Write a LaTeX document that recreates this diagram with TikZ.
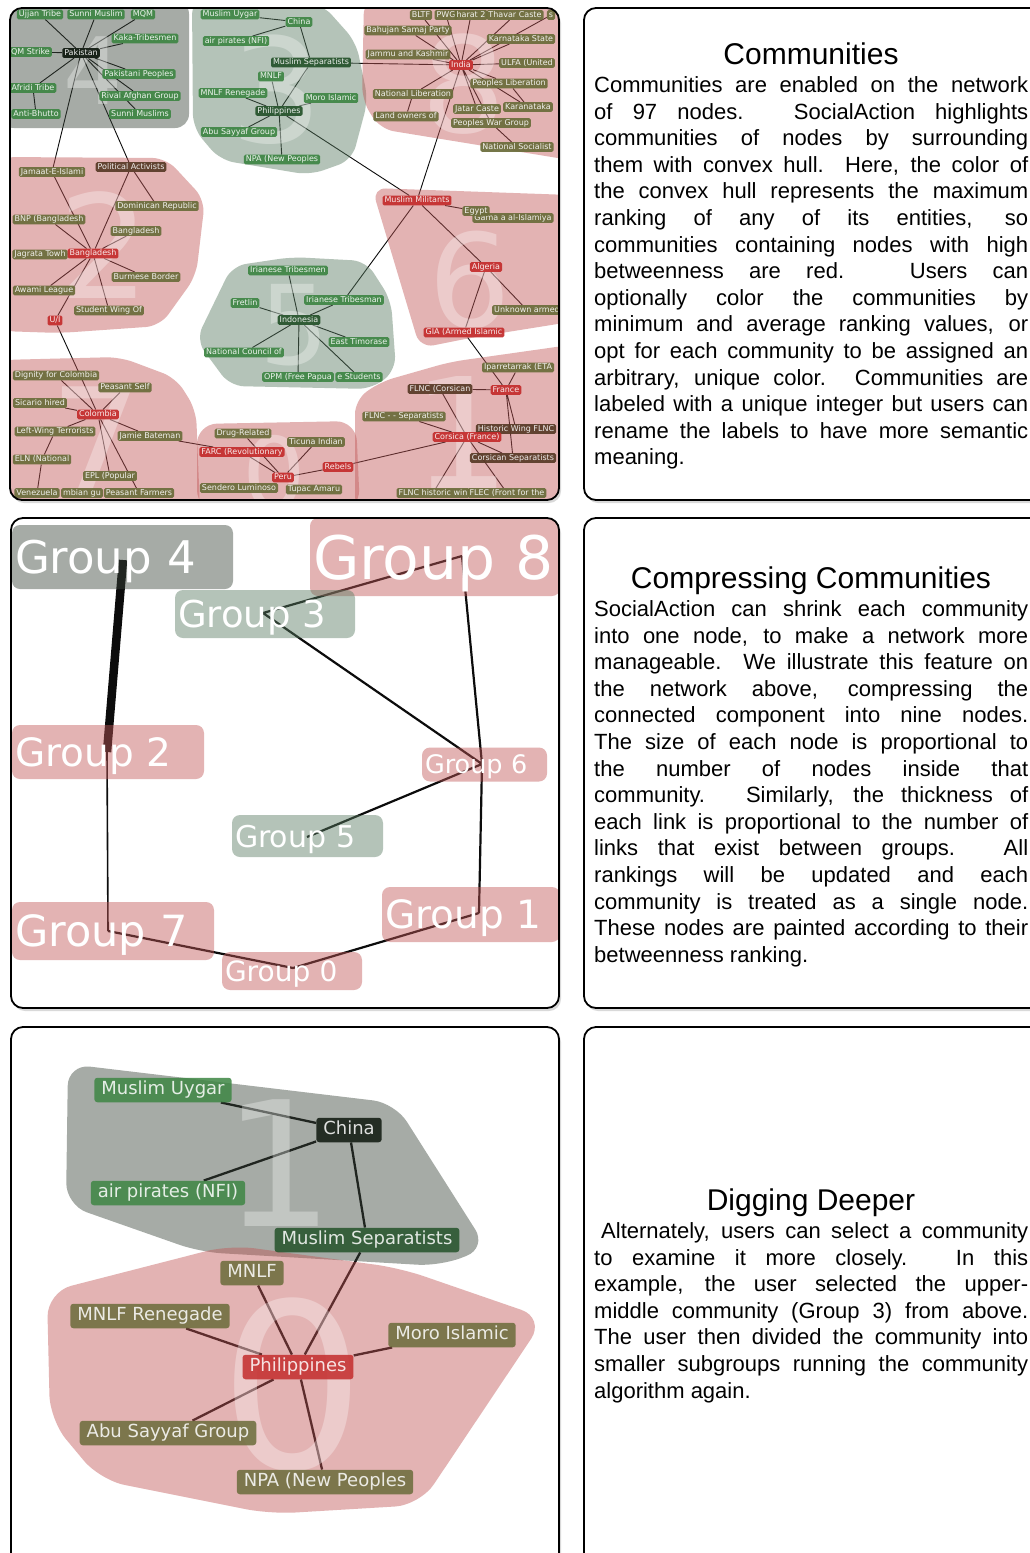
\documentclass[tikz,border=0pt]{standalone}
\usepackage{fontspec}
\setmainfont{Liberation Sans}
\newfontfamily\lucida{DejaVu Sans}
\usetikzlibrary{shadows}
\definecolor{hullRed}{RGB}{193,87,87}
\definecolor{hullGreen}{RGB}{89,124,98}
\definecolor{hullGray}{RGB}{58,69,58}
\definecolor{tagGreen}{RGB}{62,134,68}
\definecolor{tagDark}{RGB}{36,82,42}
\definecolor{tagOlive}{RGB}{106,108,58}
\definecolor{tagBrown}{RGB}{88,58,38}
\definecolor{tagRed}{RGB}{196,44,44}
\definecolor{tagBlack}{RGB}{14,24,14}
\definecolor{edgeInk}{RGB}{12,12,12}
\pgfdeclarelayer{panelbg}
\pgfdeclarelayer{links}
\pgfsetlayers{panelbg,links,main}

\begin{document}
\begin{tikzpicture}[
    x=1pt, y=-1pt,
    panelback/.style={fill=white, rounded corners=12pt,
                      drop shadow={shadow xshift=2pt, shadow yshift=-3pt, opacity=0.3}},
    panelframe/.style={draw=black, line width=1.8pt, rounded corners=12pt},
    redhull/.style={fill=hullRed, fill opacity=0.45, rounded corners=14pt},
    greenhull/.style={fill=hullGreen, fill opacity=0.45, rounded corners=14pt},
    grayhull/.style={fill=hullGray, fill opacity=0.45, rounded corners=14pt},
    hullnum/.style={font=\lucida\fontsize{#1}{#1}\selectfont, text=white,
                    text opacity=0.32, inner sep=0pt},
    tagbox/.style={font=\lucida\fontsize{8}{9.6}\selectfont, text=white, text opacity=0.9,
                   fill opacity=0.92, rounded corners=1.5pt, inner xsep=2pt, inner ysep=0.9pt,
                   text height=6pt, text depth=1.8pt},
    greentag/.style={tagbox, fill=tagGreen},
    darktag/.style={tagbox, fill=tagDark},
    olivetag/.style={tagbox, fill=tagOlive},
    browntag/.style={tagbox, fill=tagBrown},
    redtag/.style={tagbox, fill=tagRed},
    blacktag/.style={tagbox, fill=tagBlack},
    bigtag/.style={font=\lucida\fontsize{18}{21}\selectfont, text=white, text opacity=0.85,
                   fill opacity=0.85, rounded corners=3pt, inner xsep=7pt, inner ysep=3.5pt,
                   text height=13.5pt, text depth=4pt},
    groupbox/.style 2 args={font=\lucida\fontsize{#1}{#1}\selectfont, text height=#2,
                   text depth=0pt, text=white, fill opacity=0.45, text opacity=1,
                   rounded corners=8pt, inner xsep=3pt, inner ysep=0pt, align=left},
    lnk/.style={edgeInk, line width=0.9pt},
    biglnk/.style={edgeInk, line width=2.3pt},
    headline/.style={anchor=base, inner sep=0pt, font=\fontsize{30}{36}\selectfont},
    para/.style={text width=434pt, align=justify, inner sep=0pt, anchor=base west,
                 font=\fontsize{22}{26.6}\selectfont}
]
\useasboundingbox (0,0) rectangle (1029,1553);

% -- panel backs
\begin{pgfonlayer}{panelbg}
  \path[panelback] (10,8) rectangle (559,500);
  \path[panelback] (584,8) rectangle (1050,500);
  \path[panelback] (11,518) rectangle (559,1008);
  \path[panelback] (584,518) rectangle (1050,1008);
  \path[panelback] (11,1027) rectangle (559,1580);
  \path[panelback] (584,1027) rectangle (1050,1580);
\end{pgfonlayer}

% ============ Panel 1: network with convex hulls
\begin{scope}
  \clip[rounded corners=12pt] (10,8) rectangle (559,500);
  \fill[grayhull] (0,0) -- (189,0) -- (189,128) -- (0,128) -- cycle;
  \fill[greenhull] (192,0) -- (322,4) -- (356,42) -- (368,100) -- (352,160) -- (310,175)
    -- (220,160) -- (193,128) -- cycle;
  \fill[redhull] (364,0) -- (570,0) -- (570,160) -- (380,129) -- (362,100) -- cycle;
  \fill[redhull] (0,157) -- (166,158) -- (205,200) -- (196,276) -- (160,326) -- (60,333)
    -- (0,331) -- cycle;
  \fill[redhull] (0,360) -- (120,357) -- (176,378) -- (196,410) -- (200,510) -- (0,510) -- cycle;
  \fill[greenhull] (196,340) -- (232,266) -- (292,257) -- (366,261) -- (391,300) -- (396,370)
    -- (372,389) -- (230,386) -- cycle;
  \fill[redhull, rounded corners=20pt] (197,424) -- (356,421) -- (360,510) -- (197,510) -- cycle;
  \fill[redhull] (372,188) -- (570,195) -- (570,322) -- (470,338) -- (420,348) -- cycle;
  \fill[redhull] (355,400) -- (380,382) -- (450,362) -- (570,345) -- (570,510) -- (355,510) -- cycle;

  % -- community numbers
  \node[hullnum=93] (n4) at (93,71) {4};
  \node[hullnum=145] (n3) at (277,90) {3};
  \node[hullnum=144] (n2) at (104,245) {2};
  \node[hullnum=133] (n8) at (464,84) {8};
  \node[hullnum=130] (n6) at (470,280) {6};
  \node[hullnum=110] (n5) at (294,325) {5};
  \node[hullnum=155] (n1) at (462,433) {1};
  \node[hullnum=145] (n7) at (97,440) {7};
  \node[hullnum=100] (n0) at (274,473) {0};

  % -- group 4
  \node[greentag] (ujjan) at (40,14.5) {Ujjan Tribe};
  \node[greentag] (sunni) at (96,14.5) {Sunni Muslim};
  \node[greentag] (mqm) at (143,14.5) {MQM};
  \node[greentag] (kaka) at (145,38.5) {Kaka-Tribesmen};
  \node[greentag] (mqms) at (27,52) {MQM Strike};
  \node[blacktag] (pk) at (81,53) {Pakistan};
  \node[greentag] (pkp) at (139,74) {Pakistani Peoples};
  \node[greentag] (afridi) at (33,88) {Afridi Tribe};
  \node[greentag] (rival) at (140,96) {Rival Afghan Group};
  \node[greentag] (antib) at (36,114) {Anti-Bhutto};
  \node[greentag] (sunnis) at (140,114) {Sunni Muslims};

  % -- group 3
  \node[greentag] (uygar) at (230,14.5) {Muslim Uygar};
  \node[greentag] (china) at (299,22) {China};
  \node[greentag] (airp) at (236,41) {air pirates (NFI)};
  \node[darktag] (msep) at (311,62.5) {Muslim Separatists};
  \node[greentag] (mnlf) at (271,76.5) {MNLF};
  \node[greentag] (mnlfr) at (233,93) {MNLF Renegade};
  \node[greentag] (moro) at (331,98) {Moro Islamic};
  \node[darktag] (phil) at (279,111) {Philippines};
  \node[greentag] (abu) at (239,132) {Abu Sayyaf Group};
  \node[greentag] (npa) at (282,159.5) {NPA (New Peoples};

  % -- group 8
  \node[olivetag] (bltf) at (421,15) {BLTF};
  \node[olivetag] (pwg) at (446,15) {PWG};
  \node[olivetag] (harat) at (471,15) {harat 2};
  \node[olivetag] (thavar) at (515,15) {Thavar Caste};
  \node[olivetag] (ss) at (551,15) {s};
  \node[olivetag] (bahujan) at (408,30.5) {Bahujan Samaj Party};
  \node[olivetag] (karst) at (521,39) {Karnataka State};
  \node[olivetag] (jammu) at (408,54.5) {Jammu and Kashmir};
  \node[redtag] (india) at (461,65) {India};
  \node[olivetag] (ulfa) at (527,63) {ULFA (United};
  \node[olivetag] (peolib) at (509,83.5) {Peoples Liberation};
  \node[olivetag] (natlib) at (413,94) {National Liberation};
  \node[olivetag] (karan) at (528,107) {Karanataka};
  \node[olivetag] (jatar) at (477,109) {Jatar Caste};
  \node[olivetag] (landown) at (406,116.5) {Land owners of};
  \node[olivetag] (pwgrp) at (491,123) {Peoples War Group};
  \node[olivetag] (natsoc) at (517,147) {National Socialist};

  % -- group 2
  \node[olivetag] (jamaat) at (52,172) {Jamaat-E-Islami};
  \node[browntag] (polact) at (131,167) {Political Activists};
  \node[olivetag] (domrep) at (157,206) {Dominican Republic};
  \node[olivetag] (bnp) at (49,219.5) {BNP (Bangladesh};
  \node[olivetag] (bdo) at (136,231) {Bangladesh};
  \node[olivetag] (jagrata) at (40,254.5) {Jagrata Towh};
  \node[redtag] (bdr) at (93,253.5) {Bangladesh};
  \node[olivetag] (burm) at (146,277) {Burmese Border};
  \node[olivetag] (awami) at (44,290.5) {Awami League};
  \node[olivetag] (student) at (109,310.5) {Student Wing Of};
  \node[redtag] (ui) at (55,320.5) {U/I};

  % -- group 7
  \node[olivetag] (dignity) at (56,375.5) {Dignity for Colombia};
  \node[olivetag] (peasself) at (125,387.5) {Peasant Self};
  \node[olivetag] (sicario) at (40,403) {Sicario hired};
  \node[redtag] (col) at (98,414.5) {Colombia};
  \node[olivetag] (leftw) at (55,431.5) {Left-Wing Terrorists};
  \node[olivetag] (jamie) at (150,436) {Jamie Bateman};
  \node[olivetag] (eln) at (42,459.5) {ELN (National};
  \node[olivetag] (epl) at (110,476) {EPL (Popular};
  \node[olivetag] (colgu) at (82,493) {mbian gu};
  \node[olivetag] (venez) at (37,493) {Venezuela};
  \node[olivetag] (peasf) at (139,493) {Peasant Farmers};

  % -- group 6
  \node[redtag] (mili) at (417,200.5) {Muslim Militants};
  \node[olivetag] (gama) at (513,218) {Gama a al-Islamiya};
  \node[olivetag] (egypt) at (476,211) {Egypt};
  \node[redtag] (algeria) at (486,267) {Algeria};
  \node[olivetag] (unknown) at (527,310) {Unknown armed};
  \node[redtag] (gia) at (464,332.5) {GIA (Armed Islamic};

  % -- group 1
  \node[olivetag] (ipar) at (518,367.5) {Iparretarrak (ETA};
  \node[browntag] (flncc) at (440,389) {FLNC (Corsican};
  \node[redtag] (france) at (506,390) {France};
  \node[olivetag] (flncsep) at (404,416.5) {FLNC - - Separatists};
  \node[browntag] (histw) at (516,429) {Historic Wing FLNC};
  \node[redtag] (corsica) at (467,437) {Corsica (France)};
  \node[browntag] (corsep) at (513,458) {Corsican Separatists};
  \node[olivetag] (flnchw) at (433,493) {FLNC historic win};
  \node[olivetag] (flec) at (507,493) {FLEC (Front for the};

  % -- group 5
  \node[greentag] (iriane) at (288,270.5) {Irianese Tribesmen};
  \node[greentag] (fretlin) at (245,303) {Fretlin};
  \node[greentag] (irianm) at (344,300) {Irianese Tribesman};
  \node[darktag] (indo) at (299,320) {Indonesia};
  \node[greentag] (east) at (359,342) {East Timorase};
  \node[greentag] (natcou) at (244,352.5) {National Council of};
  \node[greentag] (students) at (359,377) {e Students};
  \node[greentag] (opm) at (298,377) {OPM (Free Papua};

  % -- group 0
  \node[olivetag] (drug) at (243,433.5) {Drug-Related};
  \node[olivetag] (ticuna) at (316,442) {Ticuna Indian};
  \node[redtag] (farc) at (242,452) {FARC (Revolutionary};
  \node[redtag] (rebels) at (338,467) {Rebels};
  \node[redtag] (peru) at (283,477.5) {Peru};
  \node[olivetag] (sendero) at (239,488) {Sendero Luminoso};
  \node[olivetag] (tupac) at (314,489.5) {Tupac Amaru};
\end{scope}

% -- links of panel 1 (under the hulls)
\begin{pgfonlayer}{links}
  \draw[lnk] (pk) -- (ujjan) (pk) -- (sunni) (pk) -- (mqm) (pk) -- (kaka) (pk) -- (mqms)
    (pk) -- (pkp) (pk) -- (afridi) (pk) -- (rival) (pk) -- (sunnis) (afridi) -- (antib)
    (pk) -- (jamaat) (pk) -- (polact);
  \draw[lnk] (jamaat) -- (bdr) (polact) -- (bdr) (polact) -- (domrep) (bnp) -- (bdr)
    (bdo) -- (bdr) (jagrata) -- (bdr) (bdr) -- (burm) (bdr) -- (awami) (bdr) -- (student)
    (bdr) -- (ui) (ui) -- (col);
  \draw[lnk] (col) -- (dignity) (col) -- (peasself) (col) -- (sicario) (col) -- (leftw)
    (col) -- (jamie) (col) -- (epl) (col) -- (peasf) (leftw) -- (eln) (eln) -- (venez)
    (jamie) -- (farc);
  \draw[lnk] (uygar) -- (china) (airp) -- (china) (china) -- (msep) (msep) -- (phil)
    (mnlf) -- (phil) (mnlfr) -- (phil) (moro) -- (phil) (abu) -- (phil) (phil) -- (npa)
    (phil) -- (mili) (msep) -- (india);
  \draw[lnk] (india) -- (bltf) (india) -- (pwg) (india) -- (harat) (india) -- (thavar)
    (india) -- (ss) (india) -- (bahujan) (india) -- (karst) (india) -- (jammu) (india) -- (ulfa)
    (india) -- (peolib) (india) -- (natlib) (india) -- (jatar) (india) -- (pwgrp)
    (india) -- (karan) (natlib) -- (landown) (peolib) -- (karan) (pwgrp) -- (natsoc)
    (india) -- (mili);
  \draw[lnk] (mili) -- (egypt) (mili) -- (algeria) (mili) -- (irianm) (algeria) -- (gia)
    (algeria) -- (unknown) (gia) -- (france);
  \draw[lnk] (france) -- (ipar) (flncc) -- (france) (flncc) -- (corsica) (flncsep) -- (corsica)
    (france) -- (histw) (france) -- (corsep) (corsica) -- (corsep) (corsica) -- (flnchw)
    (corsica) -- (flec) (corsica) -- (rebels);
  \draw[lnk] (indo) -- (iriane) (indo) -- (fretlin) (indo) -- (irianm) (indo) -- (east)
    (indo) -- (natcou) (indo) -- (opm) (indo) -- (students);
  \draw[lnk] (peru) -- (drug) (peru) -- (farc) (peru) -- (ticuna) (peru) -- (rebels);
\end{pgfonlayer}

% ============ Panel 2: compressed communities
\begin{scope}
  \clip[rounded corners=12pt] (11,518) rectangle (559,1008);
  \node[groupbox={45}{33pt}, fill=hullGray, minimum width=221pt, minimum height=64pt,
        text width=215pt] (g4) at (122.5,557) {Group 4};
  \node[groupbox={60}{44pt}, fill=hullRed, minimum width=250pt, minimum height=78pt,
        text width=244pt] (g8) at (435,557) {Group 8};
  \node[groupbox={37}{27pt}, fill=hullGreen, minimum width=180pt, minimum height=48pt,
        text width=174pt] (g3) at (265,614) {Group 3};
  \node[groupbox={39}{28.5pt}, fill=hullRed, minimum width=192pt, minimum height=54pt,
        text width=186pt] (g2) at (108,752) {Group 2};
  \node[groupbox={25.5}{18.6pt}, fill=hullRed, minimum width=125pt, minimum height=34pt,
        text width=119pt] (g6) at (484.5,764.5) {Group 6};
  \node[groupbox={30}{22pt}, fill=hullGreen, minimum width=151pt, minimum height=42pt,
        text width=145pt] (g5) at (307.5,836) {Group 5};
  \node[groupbox={43}{31.4pt}, fill=hullRed, minimum width=202pt, minimum height=58pt,
        text width=196pt] (g7) at (113,931) {Group 7};
  \node[groupbox={39}{28.5pt}, fill=hullRed, minimum width=178pt, minimum height=55pt,
        text width=172pt] (g1) at (471,914.5) {Group 1};
  \node[groupbox={28}{20.4pt}, fill=hullRed, minimum width=140pt, minimum height=38pt,
        text width=134pt] (g0) at (292,971) {Group 0};
\end{scope}

\coordinate (c4) at (123,560);
\coordinate (c8) at (462,556);
\coordinate (c3) at (263,613);
\coordinate (c2) at (107,752);
\coordinate (c6) at (482,764);
\coordinate (c5) at (307,837);
\coordinate (c1) at (479,913);
\coordinate (c0) at (293,968);
\coordinate (c7) at (108,931);

\begin{pgfonlayer}{links}
  \draw[edgeInk, line width=8.5pt] (c4) -- (c2);
  \draw[edgeInk, line width=1.6pt] (c2) -- (c7);
  \draw[edgeInk, line width=2.2pt] (c7) -- (c0) (c0) -- (c1) (c1) -- (c6) (c6) -- (c8)
    (c6) -- (c3) (c6) -- (c5) (c3) -- (c8);
\end{pgfonlayer}

% ============ Panel 3: digging deeper into group 3
\begin{scope}
  \clip[rounded corners=12pt] (11,1027) rectangle (559,1580);
  \fill[grayhull, rounded corners=22pt] (68,1064) -- (395,1103) -- (487,1248) -- (440,1266)
    -- (200,1252) -- (66,1205) -- cycle;
  \fill[redhull, rounded corners=25pt] (47,1292) -- (230,1245) -- (400,1268) -- (545,1318)
    -- (420,1505) -- (270,1514) -- (100,1480) -- (50,1420) -- cycle;
  \node[hullnum=174] (m1) at (279,1163) {1};
  \node[hullnum=230] (m0) at (293,1385) {0};

  \node[bigtag, fill=tagGreen] (uygarB) at (163,1090) {Muslim Uygar};
  \node[bigtag, fill=tagBlack] (chinaB) at (349,1130) {China};
  \node[bigtag, fill=tagGreen] (airpB) at (168,1193) {air pirates (NFI)};
  \node[bigtag, fill=tagDark] (msepB) at (367,1240) {Muslim Separatists};
  \node[bigtag, fill=tagOlive] (mnlfB) at (252,1273) {MNLF};
  \node[bigtag, fill=tagOlive] (mnlfrB) at (150,1316) {MNLF Renegade};
  \node[bigtag, fill=tagOlive] (moroB) at (452,1335) {Moro Islamic};
  \node[bigtag, fill=tagRed] (philB) at (298,1367) {Philippines};
  \node[bigtag, fill=tagOlive] (abuB) at (168,1433) {Abu Sayyaf Group};
  \node[bigtag, fill=tagOlive] (npaB) at (325,1482) {NPA (New Peoples};
\end{scope}

\begin{pgfonlayer}{links}
  \draw[biglnk] (uygarB) -- (chinaB) (airpB) -- (chinaB) (chinaB) -- (msepB)
    (msepB) -- (philB) (mnlfB) -- (philB) (mnlfrB) -- (philB) (moroB) -- (philB)
    (abuB) -- (philB) (npaB) -- (philB);
\end{pgfonlayer}

% ============ text panels
\node[headline] (t1) at (811,64.7) {Communities};
\node[para] (p1) at (594,92.5) {\tolerance=10000 Communities are enabled on the network\linebreak
of 97 nodes. SocialAction highlights\linebreak
communities of nodes by surrounding\linebreak
them with convex hull. Here, the color of\linebreak
the convex hull represents the maximum\linebreak
ranking of any of its entities, so\linebreak
communities containing nodes with high\linebreak
betweenness are red. Users can\linebreak
optionally color the communities by\linebreak
minimum and average ranking values, or\linebreak
opt for each community to be assigned an\linebreak
arbitrary, unique color. Communities are\linebreak
labeled with a unique integer but users can\linebreak
rename the labels to have more semantic\linebreak
meaning.};

\node[headline] (t2) at (811,588.7) {Compressing Communities};
\node[para] (p2) at (594,616.5) {\tolerance=10000 SocialAction can shrink each community\linebreak
into one node, to make a network more\linebreak
manageable. We illustrate this feature on\linebreak
the network above, compressing the\linebreak
connected component into nine nodes.\linebreak
The size of each node is proportional to\linebreak
the number of nodes inside that\linebreak
community. Similarly, the thickness of\linebreak
each link is proportional to the number of\linebreak
links that exist between groups. All\linebreak
rankings will be updated and each\linebreak
community is treated as a single node.\linebreak
These nodes are painted according to their\linebreak
betweenness ranking.};

\node[headline] (t3) at (811,1210.7) {Digging Deeper};
\node[para] (p3) at (594,1238.5) {\tolerance=10000 \hspace*{7pt}Alternately, users can select a community\linebreak
to examine it more closely. In this\linebreak
example, the user selected the upper-\linebreak
middle community (Group 3) from above.\linebreak
The user then divided the community into\linebreak
smaller subgroups running the community\linebreak
algorithm again.};

% -- panel frames
\draw[panelframe] (10,8) rectangle (559,500);
\draw[panelframe] (584,8) rectangle (1050,500);
\draw[panelframe] (11,518) rectangle (559,1008);
\draw[panelframe] (584,518) rectangle (1050,1008);
\draw[panelframe] (11,1027) rectangle (559,1580);
\draw[panelframe] (584,1027) rectangle (1050,1580);

\end{tikzpicture}
\end{document}
